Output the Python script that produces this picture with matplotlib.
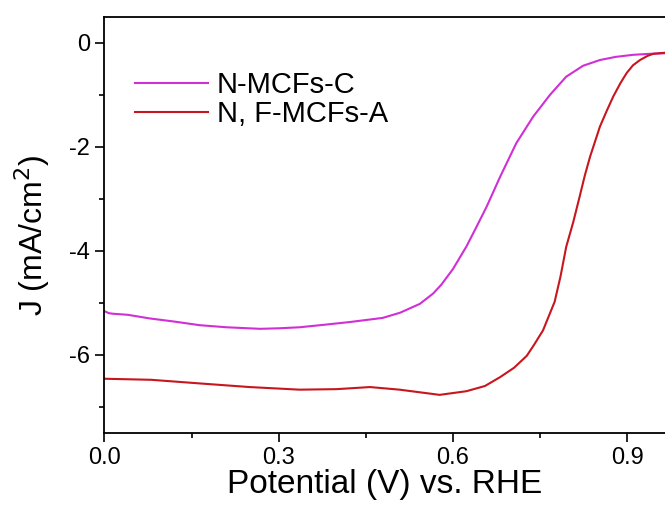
import matplotlib.pyplot as plt
from matplotlib.ticker import MultipleLocator

plt.rcParams['font.family'] = ['Liberation Sans', 'DejaVu Sans']

# N-MCFs-C
v_c = [0.0, 0.008, 0.015, 0.04, 0.078, 0.12, 0.164, 0.21, 0.268, 0.30, 0.336, 0.38,
       0.422, 0.479, 0.509, 0.543, 0.566, 0.58, 0.60, 0.623, 0.64, 0.658, 0.681, 0.709,
       0.738, 0.767, 0.795, 0.824, 0.853, 0.88, 0.91, 0.94, 0.965]
j_c = [-5.16, -5.20, -5.21, -5.23, -5.30, -5.36, -5.43, -5.47, -5.50, -5.49, -5.47, -5.42,
       -5.37, -5.29, -5.19, -5.02, -4.82, -4.65, -4.35, -3.92, -3.55, -3.15, -2.58, -1.93,
       -1.42, -1.00, -0.65, -0.44, -0.33, -0.27, -0.23, -0.21, -0.20]

# N, F-MCFs-A
v_a = [0.0, 0.08, 0.164, 0.25, 0.336, 0.40, 0.457, 0.508, 0.577, 0.623, 0.655, 0.681,
       0.705, 0.727, 0.74, 0.755, 0.775, 0.785, 0.795, 0.807, 0.818, 0.827, 0.836, 0.853,
       0.865, 0.876, 0.888, 0.899, 0.91, 0.922, 0.935, 0.945, 0.955, 0.965]
j_a = [-6.46, -6.48, -6.55, -6.62, -6.67, -6.66, -6.62, -6.67, -6.77, -6.70, -6.60, -6.43,
       -6.25, -6.02, -5.80, -5.53, -4.98, -4.50, -3.92, -3.45, -2.96, -2.55, -2.19, -1.61,
       -1.30, -1.03, -0.78, -0.58, -0.43, -0.33, -0.25, -0.21, -0.20, -0.19]

fig = plt.figure(figsize=(6.65, 5.11), dpi=100)
ax = fig.add_axes([0.157, 0.153, 0.843, 0.814])

ax.plot(v_c, j_c, color='#D02FD6', lw=1.5, label='N-MCFs-C')
ax.plot(v_a, j_a, color='#C8161E', lw=1.5, label='N, F-MCFs-A')

ax.set_xlim(0, 0.965)
ax.set_ylim(-7.5, 0.5)
ax.xaxis.set_major_locator(MultipleLocator(0.3))
ax.xaxis.set_minor_locator(MultipleLocator(0.15))
ax.yaxis.set_major_locator(MultipleLocator(2))
ax.yaxis.set_minor_locator(MultipleLocator(1))
ax.xaxis.set_major_formatter(plt.FuncFormatter(lambda x, p: f'{x:.1f}'))
ax.yaxis.set_major_formatter(plt.FuncFormatter(lambda y, p: f'{y:.0f}'))

ax.spines['right'].set_visible(False)
for s in ['left', 'bottom', 'top']:
    ax.spines[s].set_linewidth(1.3)
ax.tick_params(which='major', direction='out', length=6.5, width=1.2, labelsize=17, pad=4)
ax.tick_params(which='minor', direction='out', length=3.5, width=1.2)

ax.set_xlabel('Potential (V) vs. RHE', fontsize=24, labelpad=0)
ax.set_ylabel('J (mA/cm$^2$)', fontsize=23)
ax.yaxis.set_label_coords(-0.094, 0.475)

ax.legend(loc='upper left', bbox_to_anchor=(0.055, 0.87), frameon=False, fontsize=21,
          handlelength=2.5, handletextpad=0.3, labelspacing=0.03, borderaxespad=0,
          borderpad=0)

plt.savefig('out.png', dpi=100)
